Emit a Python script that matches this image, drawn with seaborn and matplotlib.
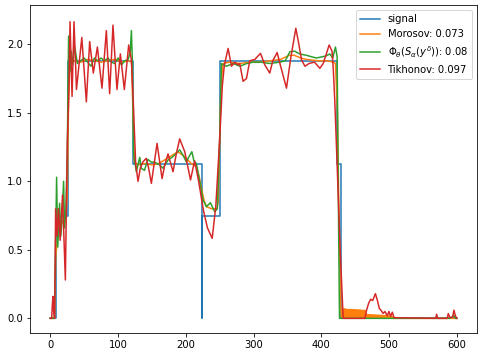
import numpy as np
import seaborn as sns
import matplotlib
matplotlib.use("Agg")
import matplotlib.pyplot as plt

# step signal (breakpoints)
signal_x = [0, 8, 8, 26, 26, 122, 122, 224, 224, 224, 250, 250, 423, 423, 429, 429, 600]
signal_y = [0, 0, 0.75, 0.75, 1.875, 1.875, 1.125, 1.125, 0, 0.75, 0.75, 1.875, 1.875, 1.125, 1.125, 0, 0]

# Morosov reconstruction
morosov_x = [0, 6, 8, 12, 18, 23, 25, 27, 29, 35,
             45, 55, 65, 75, 85, 95, 105, 115, 120, 122,
             124, 130, 140, 150, 160, 170, 180, 188, 196, 202,
             208, 216, 220, 223.5, 227, 230.5, 238, 246, 248, 250,
             252, 255, 265, 280, 295, 310, 325, 340, 353, 360,
             370, 378, 395, 408, 418, 421, 424, 426, 428]
morosov_y = [0, 0, 0.45, 0.65, 0.7, 0.75, 0.9, 1.6, 1.86, 1.88,
             1.87, 1.89, 1.88, 1.87, 1.88, 1.89, 1.87, 1.88, 1.87, 1.5,
             1.14, 1.12, 1.13, 1.12, 1.13, 1.16, 1.19, 1.215, 1.19, 1.16,
             1.13, 1.107, 1.03, 0.94, 0.86, 0.815, 0.80, 0.80, 0.85, 1.3,
             1.7, 1.86, 1.87, 1.86, 1.87, 1.87, 1.88, 1.89, 1.92, 1.92,
             1.90, 1.89, 1.88, 1.88, 1.87, 1.86, 1.5, 0.8, 0.2]
# fast ringing after the last drop, one value per unit from 429 to 506
morosov_tail_y = [0.07, 0.0, 0.068, 0.0, 0.066, 0.0, 0.07, 0.0, 0.066, 0.0,
                  0.064, 0.0, 0.066, 0.0, 0.063, 0.0, 0.065, 0.0, 0.062, 0.0,
                  0.064, 0.0, 0.061, 0.0, 0.063, 0.0, 0.06, 0.0, 0.062, 0.0,
                  0.06, 0.0, 0.058, 0.0, 0.06, 0.0, 0.056, 0.0,
                  0.03, 0.0, 0.028, 0.0, 0.026, 0.0, 0.027, 0.0, 0.025, 0.0,
                  0.026, 0.0, 0.024, 0.0, 0.025, 0.0, 0.023, 0.0, 0.024, 0.0,
                  0.022, 0.0, 0.023, 0.0, 0.021, 0.0, 0.02, 0.0, 0.022, 0.0,
                  0.019, 0.0, 0.02, 0.0, 0.018, 0.0, 0.016, 0.0, 0.012, 0.0]
morosov_end_x = [600]
morosov_end_y = [0.0]

# learned reconstruction Phi_theta(S_alpha(y^delta))
phi_x = [0, 6, 7, 9.3, 11, 13.7, 15.5, 17, 19.6, 21,
         23, 25, 27, 29, 31, 33, 36, 40, 45, 50,
         55, 60, 65, 70, 75, 80, 85, 90, 95, 100,
         105, 110, 115, 118, 119.7, 121, 123, 127, 132, 134.3,
         139, 144, 149, 154, 161.5, 166.4, 173.8, 181, 191, 196,
         201, 203.4, 209, 212, 215.6, 220.6, 225.5, 230.5, 236.3, 242.7,
         246.6, 250, 252.6, 260, 270, 280, 290, 300, 310, 324,
         339, 347, 353.7, 361, 368, 378, 392.7, 407, 412.7, 417,
         421, 423.5, 425, 427, 440, 500, 590, 596, 598, 600]
phi_y = [0, 0, 0.3, 1.03, 0.52, 0.84, 0.6, 0.7, 1.0, 0.66,
         0.8, 1.2, 2.06, 1.80, 1.95, 1.85, 1.98, 1.86, 1.88, 1.9,
         1.87, 1.84, 1.9, 1.88, 1.9, 1.88, 1.9, 1.87, 1.86, 1.9,
         1.85, 1.88, 1.89, 1.95, 2.1, 1.9, 1.2, 1.07, 1.175, 1.095,
         1.08, 1.16, 1.14, 1.14, 1.12, 1.095, 1.155, 1.18, 1.23, 1.19,
         1.14, 1.168, 1.216, 1.15, 1.13, 1.0, 0.864, 0.815, 0.844, 0.778,
         0.80, 1.3, 1.86, 1.84, 1.86, 1.84, 1.86, 1.87, 1.87, 1.86,
         1.87, 1.88, 1.946, 1.95, 1.93, 1.92, 1.90, 1.915, 1.93, 1.90,
         1.98, 1.91, 1.0, 0.0, 0.0, 0.0, 0.0, 0.02, 0.0, 0.0]

# Tikhonov reconstruction
tikhonov_x = [0, 2, 3, 3.9, 5, 6.4, 7.8, 10, 12, 14.5,
              18, 22.2, 25.1, 27.5, 29.1, 32.1, 35, 38.6, 46.5, 53.2,
              58.1, 63.5, 69.5, 76.3, 82.7, 87.6, 92.5, 98.4, 103.4, 109.3,
              115.7, 119.7, 123, 126, 129.5, 133, 136.9, 141.7, 145, 149.2,
              157.6, 165, 169, 173.8, 181.2, 186, 191, 198.5, 203, 207,
              213, 219, 226, 232, 239, 244.3, 250, 254, 257, 262.5,
              267.5, 272.4, 277, 279.7, 284.6, 289.6, 294.5, 302, 310.3, 316.7,
              324, 328.5, 334.9, 339, 348.7, 355, 362.5, 367, 371, 376,
              382, 390, 398, 403, 411.7, 416, 418, 420, 424, 428,
              432.4, 464.5, 467, 470, 473, 476, 480, 483, 485.7, 488,
              491.5, 494, 497.6, 500, 502.5, 505, 507.5, 569, 570.4, 572,
              586, 587.6, 590, 594, 596, 598, 600]
tikhonov_y = [0, 0, 0.1, 0.16, 0.05, 0.0, 0.80, 0.60, 0.80, 0.57,
              0.90, 0.28, 1.28, 1.67, 2.165, 1.62, 2.165, 1.67, 2.05, 1.58,
              2.02, 1.79, 1.98, 1.68, 2.10, 1.64, 2.14, 1.67, 1.93, 1.67,
              1.995, 1.885, 1.52, 1.13, 1.0, 1.1, 1.143, 1.168, 1.1, 0.985,
              1.277, 1.02, 1.12, 1.20, 1.07, 1.2, 1.31, 1.216, 1.107, 1.01,
              1.15, 1.0, 0.79, 0.66, 0.584, 0.815, 1.3, 1.7, 1.85, 1.97,
              1.84, 1.87, 1.85, 1.86, 1.73, 1.75, 1.88, 1.89, 1.934, 1.85,
              1.79, 1.88, 1.94, 1.86, 1.68, 1.9, 2.117, 2.0, 1.885, 1.84,
              1.86, 1.87, 1.825, 1.86, 1.995, 1.95, 1.8, 1.59, 1.05, 0.5,
              0.0, 0.0, 0.06, 0.11, 0.139, 0.13, 0.18, 0.13, 0.073, 0.06,
              0.036, 0.05, 0.02, 0.05, 0.015, 0.045, 0.005, 0.0, 0.03, 0.0,
              0.0, 0.035, 0.005, 0.01, 0.06, 0.02, 0.0]

LABELS = ["signal", "Morosov: 0.073",
          r"$\Phi_\theta(S_\alpha(y^\delta))$: 0.08", "Tikhonov: 0.097"]
COLORS = sns.color_palette("tab10", 4)


def main():
    fig = plt.figure(figsize=(483 / 72, 357 / 72), dpi=72)
    ax = fig.add_axes([30 / 483, 24 / 357, 447 / 483, 328 / 357])

    mor_x = morosov_x + list(np.arange(429, 429 + len(morosov_tail_y))) + morosov_end_x
    mor_y = morosov_y + morosov_tail_y + morosov_end_y

    series = [(signal_x, signal_y), (mor_x, mor_y), (phi_x, phi_y), (tikhonov_x, tikhonov_y)]
    for (xs, ys), lab, col in zip(series, LABELS, COLORS):
        sns.lineplot(x=np.asarray(xs, float), y=np.asarray(ys, float), estimator=None,
                     sort=False, color=col, linewidth=1.5, label=lab, ax=ax)

    ax.set_xlim(-30, 630)
    ax.set_ylim(-0.107, 2.287)
    ax.set_xlabel("")
    ax.set_ylabel("")
    ax.legend(loc="upper right", fontsize=10)

    fig.savefig("out.png", dpi=72)


if __name__ == "__main__":
    main()
